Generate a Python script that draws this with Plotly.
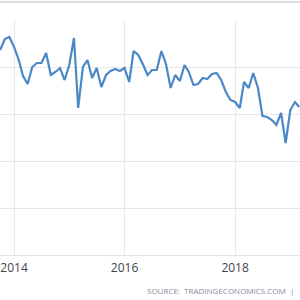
import plotly.graph_objects as go
import pandas as pd

# Monthly series, Oct 2013 .. Mar 2019
dates = pd.date_range("2013-10-01", periods=66, freq="MS")
pix = [50, 39, 37, 47, 60, 76, 84, 67, 63, 63,
       53, 75, 72, 68, 80, 65, 38, 108, 67, 60,
       78, 68, 87, 75, 71, 69, 71, 68, 82, 51,
       55, 64, 75, 70, 70, 51, 64, 88, 75, 81,
       65, 72, 85, 84, 78, 79, 74, 73, 80, 92,
       100, 102, 108, 82, 88, 73, 88, 116, 117, 120,
       125, 113, 143, 110, 102, 107]
values = [round((255 - p) / 4.7, 2) for p in pix]

tick_labels = ["2014", "2016", "2018"]
tick_vals = ["2014-01-01", "2016-01-01", "2018-01-01"]

fig = go.Figure()
fig.add_trace(go.Scatter(x=dates, y=values, mode="lines",
                         line=dict(color="#4a88c6", width=2.2),
                         hoverinfo="skip"))

fig.update_layout(
    width=300, height=300,
    margin=dict(l=0, r=0, t=20, b=45),
    paper_bgcolor="white", plot_bgcolor="white",
    showlegend=False,
    xaxis=dict(range=["2013-09-30", "2019-03-06"],
               tickvals=tick_vals, ticktext=tick_labels,
               showgrid=True, gridcolor="#e8e8e8", gridwidth=1,
               showline=False, zeroline=False, ticks="",
               tickfont=dict(family="Open Sans", size=12, color="#3f3f50"),
               ticklabelstandoff=4),
    yaxis=dict(range=[0, 50], dtick=10, showticklabels=False,
               showgrid=True, gridcolor="#e8e8e8", gridwidth=1,
               zeroline=True, zerolinecolor="#e3e3e3", zerolinewidth=1,
               ticks=""),
    shapes=[dict(type="line", xref="paper", yref="paper",
                 x0=0, x1=1, y0=(255 - 2) / 235, y1=(255 - 2) / 235,
                 line=dict(color="#dcdcdc", width=2))],
    annotations=[dict(text="SOURCE:  TRADINGECONOMICS.COM  |",
                      xref="paper", yref="paper",
                      x=296 / 300, y=(255 - 290) / 235,
                      xanchor="right", yanchor="middle", showarrow=False,
                      font=dict(family="Open Sans", size=8, color="#8a8a9a"))],
)

fig.write_html("out.html")
